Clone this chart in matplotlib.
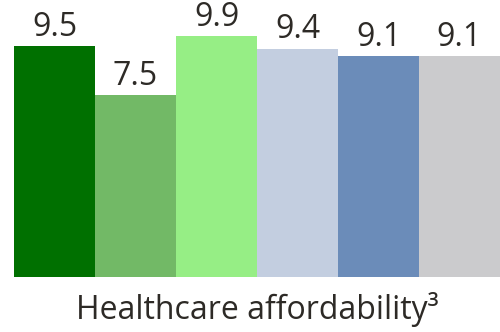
import matplotlib
matplotlib.use('Agg')
import matplotlib.pyplot as plt

plt.rcParams['font.family'] = ['Open Sans', 'DejaVu Sans']

categories = ['A', 'B', 'C', 'D', 'E', 'F']
values = [9.5, 7.5, 9.9, 9.4, 9.1, 9.1]
colors = ['#007000', '#72b966', '#96ee85', '#c3cee0', '#6b8cb9', '#cbcbcd']
label = 'Healthcare affordability³'
text_color = '#2d2a26'

W, H = 500, 332
fig = plt.figure(figsize=(W / 100, H / 100), dpi=100)
ax = fig.add_axes([14 / W, 55 / H, 486 / W, 277 / H])

x = range(len(values))
bars = ax.bar(x, values, width=1.0, color=colors, linewidth=0)
for b, v in zip(bars, values):
  ax.annotate(f'{v:.1f}', (b.get_x() + b.get_width() / 2, v),
    xytext=(0, 7.3), textcoords='offset points',
    ha='center', va='baseline', fontsize=23, color=text_color)

ax.set_xlim(-0.5, len(values) - 0.5)
ax.set_ylim(0, 11.4)
ax.axis('off')

fig.text((14 + 500) / 2 / W, 1 - 319 / H, label, ha='center', va='baseline',
  fontsize=23, color=text_color)

fig.savefig('out.png', dpi=100)
